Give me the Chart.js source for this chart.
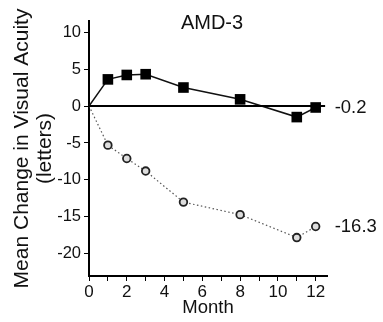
<!DOCTYPE html>
<html>
<head>
<meta charset="utf-8">
<script src="https://cdn.jsdelivr.net/npm/chart.js@4/dist/chart.umd.min.js"></script>
<style>
  html, body { margin: 0; padding: 0; background: #fff; }
  #wrap { width: 383px; height: 322px; }
</style>
</head>
<body>
<div id="wrap"><canvas id="chart"></canvas></div>
<script>
const FONT = '"Liberation Sans", Arial, sans-serif';

const months = [0, 1, 2, 3, 5, 8, 11, 12];
const treated = [0, 3.6, 4.2, 4.3, 2.5, 0.9, -1.5, -0.2];
const untreated = [0, -5.3, -7.1, -8.8, -13.0, -14.7, -17.8, -16.3];
const xTicks = [0, 1, 2, 3, 4, 5, 6, 7, 8, 9, 10, 11, 12];
const yTicks = [-20, -15, -10, -5, 0, 5, 10];

const toPoints = vals => months.map((m, i) => ({ x: m, y: vals[i] }));
// no marker on the baseline point
const markerSizes = r => months.map(m => (m === 0 ? 0 : r));

// title and end-of-line values
const labelsPlugin = {
  id: 'labels',
  afterDatasetsDraw(chart) {
    const { ctx, scales, chartArea } = chart;
    ctx.save();
    ctx.fillStyle = '#111';
    ctx.textBaseline = 'middle';
    ctx.font = '20px ' + FONT;
    ctx.textAlign = 'center';
    ctx.fillText('AMD-3', (chartArea.left + chartArea.right) / 2 + 4, 23);

    ctx.font = '18.5px ' + FONT;
    ctx.textAlign = 'left';
    const lastX = scales.x.getPixelForValue(months[months.length - 1]) + 19;
    [treated, untreated].forEach(vals => {
      const v = vals[vals.length - 1];
      ctx.fillText(v.toFixed(1), lastX, scales.y.getPixelForValue(v));
    });
    ctx.restore();
  }
};

new Chart(document.getElementById('chart'), {
  type: 'line',
  data: {
    datasets: [
      {
        data: [{ x: 0, y: 0 }, { x: 12.5, y: 0 }],
        borderColor: '#000',
        borderWidth: 2,
        pointRadius: 0
      },
      {
        data: toPoints(untreated),
        borderColor: '#555',
        borderWidth: 1.2,
        borderDash: [1.5, 2.5],
        pointStyle: 'circle',
        pointRadius: markerSizes(3.8),
        pointBorderWidth: 1.8,
        pointBorderColor: '#222',
        pointBackgroundColor: '#ddd'
      },
      {
        data: toPoints(treated),
        borderColor: '#111',
        borderWidth: 1.5,
        pointStyle: 'rect',
        pointRadius: markerSizes(7.5),
        pointBorderWidth: 0,
        pointBackgroundColor: '#000'
      }
    ]
  },
  options: {
    responsive: true,
    maintainAspectRatio: false,
    animation: false,
    layout: { padding: { top: 21, right: 56, bottom: 0, left: 0 } },
    plugins: {
      legend: { display: false },
      tooltip: { enabled: false }
    },
    scales: {
      x: {
        type: 'linear',
        min: 0,
        max: 12.6,
        afterBuildTicks: s => { s.ticks = xTicks.map(v => ({ value: v })); },
        afterFit: s => { s.height = 46; },
        border: { display: true, color: '#000', width: 2 },
        grid: { drawOnChartArea: false, drawTicks: true, tickLength: 5, color: '#000' },
        ticks: {
          color: '#111',
          padding: 1,
          maxRotation: 0,
          autoSkip: false,
          font: { family: FONT, size: 17 },
          callback: v => (v % 2 === 0 ? String(v) : '')
        },
        title: {
          display: true,
          text: 'Month',
          color: '#111',
          font: { family: FONT, size: 18.5, lineHeight: 1.1 },
          padding: { top: 0, bottom: 4 }
        }
      },
      y: {
        min: -23,
        max: 11.5,
        afterBuildTicks: s => { s.ticks = yTicks.map(v => ({ value: v })); },
        afterFit: s => { s.width = 89; },
        border: { display: true, color: '#000', width: 2 },
        grid: { drawOnChartArea: false, drawTicks: true, tickLength: 5, color: '#000' },
        ticks: {
          color: '#111',
          padding: 3,
          font: { family: FONT, size: 16.5 }
        },
        title: {
          display: true,
          text: ['Mean Change in Visual Acuity', '(letters)'],
          color: '#111',
          font: { family: FONT, size: 21, lineHeight: 1.1 },
          padding: { top: 10.5, bottom: 0 }
        }
      }
    }
  },
  plugins: [labelsPlugin]
});
</script>
</body>
</html>
